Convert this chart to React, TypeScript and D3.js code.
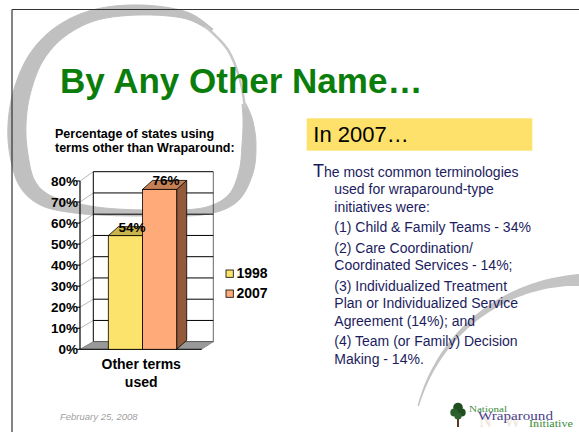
import React from "react";
import * as d3 from "d3";

// ---------- data ----------
const seriesNames = ["1998", "2007"];
const seriesValues = [54, 76];
const categoryLines = ["Other terms", "used"];
const yTickValues = [0, 10, 20, 30, 40, 50, 60, 70, 80];
const chartTitleLines = ["Percentage of states using", "terms other than Wraparound:"];
const slideTitle = "By Any Other Name…";
const boxHeading = "In 2007…";
const dateText = "February 25, 2008";
const bodyParagraphs = [
  ["The most common terminologies", "used for wraparound-type", "initiatives were:"],
  ["(1) Child & Family Teams - 34%"],
  ["(2) Care Coordination/", "Coordinated Services - 14%;"],
  ["(3) Individualized Treatment", "Plan or Individualized Service", "Agreement (14%); and"],
  ["(4) Team (or Family) Decision", "Making - 14%."],
];

// ---------- styles ----------
const frontColors = ["#FCE36B", "#FFAA78"];
const topColors = ["#C9B54C", "#C47F55"];
const sideColors = ["#B3A040", "#925A38"];
const SANS = "'Liberation Sans', Arial, Helvetica, sans-serif";
const SERIF = "'Liberation Serif', 'DejaVu Serif', serif";

// ---------- layout ----------
const axisX = 80;
const floorRightX = 201.7;
const wallDX = 13.3;
const barDX = 10;
const barDY = -9;
const yFront = d3.scaleLinear().domain([0, 80]).range([349.3, 181]);
const yBack = d3.scaleLinear().domain([0, 80]).range([341.7, 171.7]);
const xBar = d3.scaleBand<string>().domain(seriesNames).range([108.3, 176.7]).padding(0);

// decorative brush ring (slide background): control points + brush widths
const ringCtrl: [number, number, number][] = [
  [244, 104, 4], [248, 122, 10], [249, 145, 14], [246, 172, 14], [233, 198, 11],
  [205, 211, 7], [160, 213, 6], [110, 212, 7], [75, 208, 10], [45, 200, 13],
  [27, 183, 16], [19, 155, 18], [17, 125, 18], [22, 92, 17], [36, 58, 15],
  [60, 32, 13], [95, 15, 11], [140, 10, 10], [185, 15, 7], [212, 30, 3],
];
const ringThin: [number, number][] = [[205, 26], [228, 50], [240, 80], [245, 108]];

function brushPath(ctrl: [number, number, number][], steps: number) {
  const pts: [number, number, number][] = [];
  const n = ctrl.length;
  const get = (i: number) => ctrl[Math.max(0, Math.min(n - 1, i))];
  for (let i = 0; i < n - 1; i++) {
    const p0 = get(i - 1), p1 = get(i), p2 = get(i + 1), p3 = get(i + 2);
    for (let s = 0; s < steps; s++) {
      const t = s / steps, t2 = t * t, t3 = t2 * t;
      const v = [0, 1, 2].map(
        (k) =>
          0.5 *
          (2 * p1[k] + (-p0[k] + p2[k]) * t + (2 * p0[k] - 5 * p1[k] + 4 * p2[k] - p3[k]) * t2 +
            (-p0[k] + 3 * p1[k] - 3 * p2[k] + p3[k]) * t3)
      );
      pts.push([v[0], v[1], v[2]]);
    }
  }
  pts.push(ctrl[n - 1]);
  const left: [number, number][] = [];
  const right: [number, number][] = [];
  pts.forEach((p, i) => {
    const a = pts[Math.max(0, i - 1)], b = pts[Math.min(pts.length - 1, i + 1)];
    const dx = b[0] - a[0], dy = b[1] - a[1];
    const len = Math.hypot(dx, dy) || 1;
    const nx = -dy / len, ny = dx / len;
    const w = Math.max(0.5, p[2]) / 2;
    left.push([p[0] + nx * w, p[1] + ny * w]);
    right.push([p[0] - nx * w, p[1] - ny * w]);
  });
  return (d3.line().curve(d3.curveLinearClosed)([...left, ...right.reverse()]) || "");
}
const ringPath = brushPath(ringCtrl, 12);
const ringThinPath = d3.line().curve(d3.curveCatmullRom.alpha(0.5))(ringThin) || "";

function taperedArc(cx: number, cy: number, r: number, a0: number, a1: number, w0: number, w1: number) {
  const n = 60;
  const angles = d3.range(n + 1).map((i) => a0 + ((a1 - a0) * i) / n);
  const wScale = d3.scalePow().exponent(0.6).domain([a0, a1]).range([w0, w1]);
  const outer = angles.map((a) => {
    const rr = r + wScale(a) / 2;
    return [cx + rr * Math.sin(a), cy - rr * Math.cos(a)] as [number, number];
  });
  const inner = angles
    .slice()
    .reverse()
    .map((a) => {
      const rr = r - wScale(a) / 2;
      return [cx + rr * Math.sin(a), cy - rr * Math.cos(a)] as [number, number];
    });
  return (d3.line()([...outer, ...inner]) || "") + "Z";
}
const arc2 = taperedArc(584, 452, 172, -1.3, 0.12, 1.5, 16);

export default function App() {
  const tops = seriesValues.map((v) => yFront(v));
  const bodyLines: { text: string; y: number; first: boolean }[] = [];
  let yy = 176.7;
  bodyParagraphs.forEach((p, pi) => {
    p.forEach((t, li) => {
      bodyLines.push({ text: t, y: yy, first: pi === 0 && li === 0 });
      yy += 17.6;
    });
    yy += 2.8;
  });

  return (
    <svg
      width={579}
      height={432}
      style={{ position: "absolute", left: 0, top: 0, background: "#fff" }}
      fontFamily={SANS}
    >
      <rect x={0} y={0} width={579} height={432} fill="#fff" />
      {/* background brush strokes */}
      <path d={ringPath} fill="#C0C0C0" stroke="#C0C0C0" strokeWidth={1} />
      <path d={ringThinPath} fill="none" stroke="#C8C8C8" strokeWidth={2.5} />
      <path d={arc2} fill="#C4C4C4" />

      {/* slide frame */}
      <line x1={12} y1={9.5} x2={579} y2={9.5} stroke="#333" strokeWidth={1.2} />
      <line x1={12} y1={9.5} x2={12} y2={432} stroke="#333" strokeWidth={1.2} />

      {/* slide title */}
      <text x={60} y={93} fontSize={35} fontWeight="bold" fill="#0B7D0B">
        {slideTitle}
      </text>

      {/* chart title */}
      {chartTitleLines.map((t, i) => (
        <text key={t} x={55} y={137.8 + i * 13.8} fontSize={12.5} fontWeight="bold" fill="#000">
          {t}
        </text>
      ))}

      {/* side wall grid lines */}
      {yTickValues.map((t) => (
        <line
          key={"s" + t}
          x1={axisX}
          y1={yFront(t)}
          x2={axisX + wallDX}
          y2={yBack(t)}
          stroke="#9A9A9A"
          strokeWidth={0.7}
        />
      ))}
      {/* back wall grid lines */}
      {yTickValues.map((t) => (
        <line
          key={"b" + t}
          x1={axisX + wallDX}
          y1={yBack(t)}
          x2={floorRightX + 11.6}
          y2={yBack(t)}
          stroke="#000"
          strokeWidth={1}
        />
      ))}
      <line x1={axisX + wallDX} y1={yBack(0)} x2={axisX + wallDX} y2={yBack(80)} stroke="#000" strokeWidth={1} />
      <line x1={floorRightX + 11.6} y1={yBack(0)} x2={floorRightX + 11.6} y2={yBack(80)} stroke="#000" strokeWidth={0.6} />

      {/* floor */}
      <polygon
        points={[
          [axisX, yFront(0)],
          [floorRightX, yFront(0)],
          [floorRightX + 11.6, yBack(0)],
          [axisX + wallDX, yBack(0)],
        ]
          .map((p) => p.join(","))
          .join(" ")}
        fill="#999"
        stroke="#777"
        strokeWidth={0.6}
      />
      <line x1={axisX} y1={yFront(0)} x2={floorRightX} y2={yFront(0)} stroke="#000" strokeWidth={1} />

      {/* axis */}
      <line x1={axisX} y1={yFront(0)} x2={axisX} y2={yFront(80)} stroke="#000" strokeWidth={1.2} />
      {yTickValues.map((t) => (
        <g key={"t" + t}>
          <line x1={axisX - 3.5} y1={yFront(t)} x2={axisX} y2={yFront(t)} stroke="#000" strokeWidth={1} />
          <text
            x={axisX - 2}
            y={yFront(t)}
            dy="0.36em"
            textAnchor="end"
            fontSize={13.5}
            fontWeight="bold"
            fill="#000"
          >
            {t + "%"}
          </text>
        </g>
      ))}

      {/* bars */}
      {seriesNames.map((s, i) => {
        const x0 = xBar(s) as number;
        const x1 = x0 + xBar.bandwidth();
        const yt = tops[i];
        const yb = yFront(0);
        const pts = (arr: number[][]) => arr.map((p) => p.join(",")).join(" ");
        return (
          <g key={s}>
            <polygon
              points={pts([
                [x1, yt],
                [x1 + barDX, yt + barDY],
                [x1 + barDX, yb + barDY],
                [x1, yb],
              ])}
              fill={sideColors[i]}
              stroke="#000"
              strokeWidth={0.8}
            />
            <polygon
              points={pts([
                [x0, yt],
                [x1, yt],
                [x1 + barDX, yt + barDY],
                [x0 + barDX, yt + barDY],
              ])}
              fill={topColors[i]}
              stroke="#000"
              strokeWidth={0.8}
            />
            <rect x={x0} y={yt} width={x1 - x0} height={yb - yt} fill={frontColors[i]} stroke="#000" strokeWidth={0.8} />
          </g>
        );
      })}
      {seriesNames.map((s, i) => {
        const x0 = xBar(s) as number;
        const cx = x0 + xBar.bandwidth() / 2 + barDX / 2 + 1.5;
        return (
          <text
            key={"v" + s}
            x={cx}
            y={tops[i] - 4}
            textAnchor="middle"
            fontSize={13.5}
            fontWeight="bold"
            fill="#000"
          >
            {seriesValues[i] + "%"}
          </text>
        );
      })}

      {/* category label */}
      {categoryLines.map((t, i) => (
        <text key={t} x={141.2} y={369.3 + i * 18} textAnchor="middle" fontSize={14} fontWeight="bold" fill="#000">
          {t}
        </text>
      ))}

      {/* legend */}
      {seriesNames.map((s, i) => (
        <g key={"l" + s} transform={`translate(226,${270 + i * 20})`}>
          <rect x={0} y={0} width={7.3} height={7.3} fill={frontColors[i]} stroke="#000" strokeWidth={0.8} />
          <text x={10.5} y={7.8} fontSize={14} fontWeight="bold" fill="#000">
            {s}
          </text>
        </g>
      ))}

      {/* right panel */}
      <rect x={306.7} y={118.3} width={225.6} height={32.4} fill="#FDE16B" />
      <text x={313.3} y={141.7} fontSize={22} fill="#000">
        {boxHeading}
      </text>
      {bodyLines.map((l, i) =>
        l.first ? (
          <text key={i} x={313} y={l.y} fontSize={14} fill="#1C1C5E">
            <tspan fontSize={18}>{l.text.charAt(0)}</tspan>
            <tspan>{l.text.slice(1)}</tspan>
          </text>
        ) : (
          <text key={i} x={334.3} y={l.y} fontSize={14} fill="#1C1C5E">
            {l.text}
          </text>
        )
      )}

      {/* footer */}
      <text x={60} y={420} fontSize={9.5} fontStyle="italic" fill="#A0A0A0">
        {dateText}
      </text>

      {/* logo */}
      <text x={479} y={427} fontFamily={SERIF} fontSize={18} fill="#EFE6D8" textLength={60} lengthAdjust="spacing">
        NWI
      </text>
      <rect x={457} y={414} width={2} height={13} fill="#5A3A1E" />
      <circle cx={458} cy={407.5} r={4.8} fill="#1F4F1F" />
      <circle cx={454.3} cy={412.5} r={4} fill="#2B5E2B" />
      <circle cx={461.7} cy={412.5} r={4} fill="#1F4F1F" />
      <circle cx={458} cy={416} r={3.6} fill="#2F622F" />
      <text x={469} y={411.5} fontFamily={SERIF} fontSize={9} fill="#3D8C3D" textLength={38} lengthAdjust="spacingAndGlyphs">
        National
      </text>
      <text x={478} y={420} fontFamily={SERIF} fontSize={13.5} fill="#4A3F8E" textLength={75} lengthAdjust="spacingAndGlyphs">
        Wraparound
      </text>
      <text x={529} y={427} fontFamily={SERIF} fontSize={10} fill="#3D8C3D" textLength={44} lengthAdjust="spacingAndGlyphs">
        Initiative
      </text>
    </svg>
  );
}
